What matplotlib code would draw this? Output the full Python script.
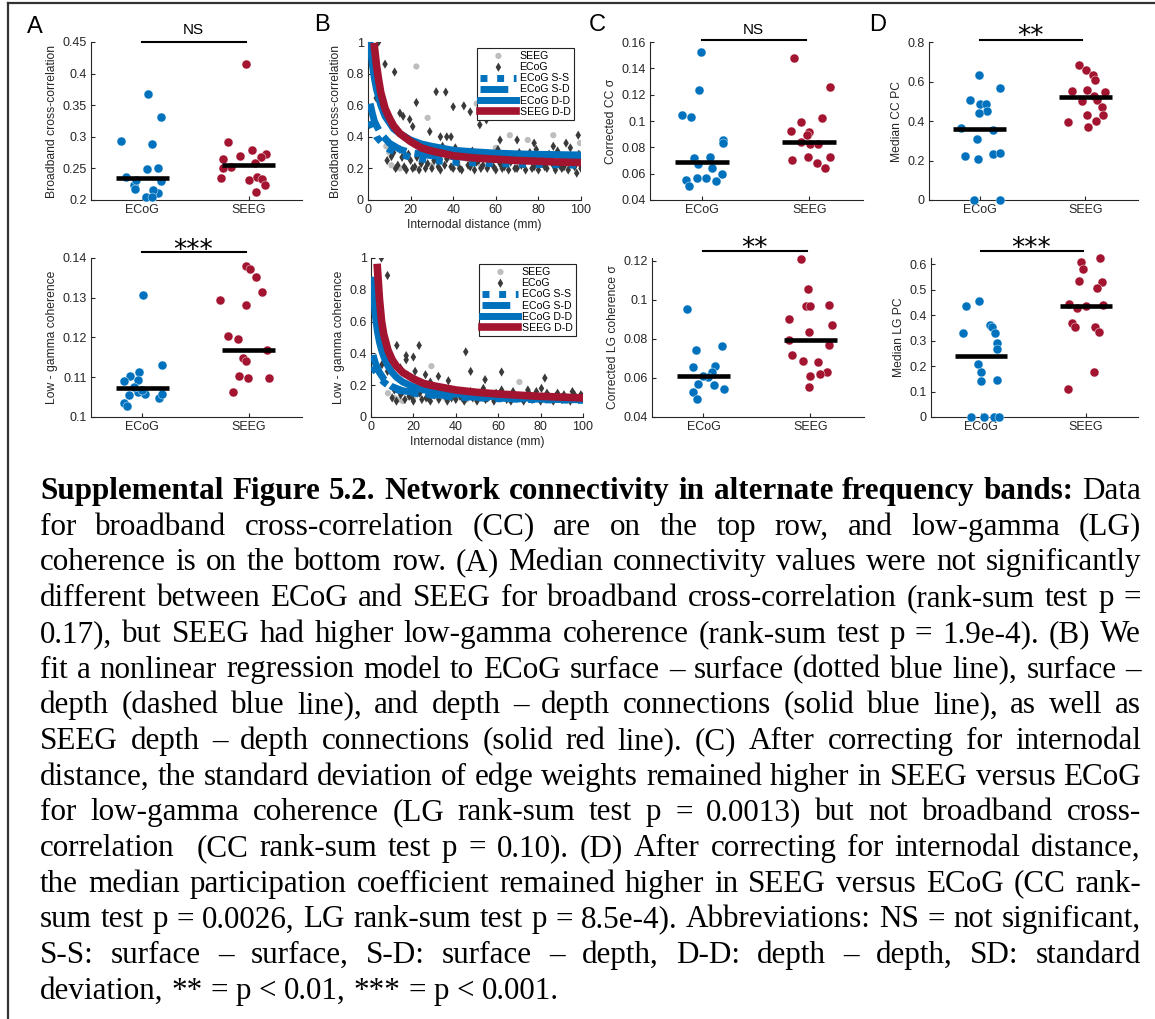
import numpy as np
import matplotlib
matplotlib.use('Agg')
import matplotlib.pyplot as plt
from matplotlib.lines import Line2D
from matplotlib.ticker import FuncFormatter

W, H = 1155, 1019
BLUE = '#0072BD'
RED = '#A2142F'
AXC = '#262626'

plt.rcParams['font.family'] = ['Liberation Sans', 'DejaVu Sans']

# ---------------- panel A: median connectivity ----------------
a_cc_ecog_x = [1.056, 1.175, 0.803, 1.09, 0.853, 1.047, 1.153, 1.175, 0.928, 0.93, 1.153, 1.10, 1.034, 1.094, 0.94]
a_cc_ecog_y = [0.367, 0.331, 0.293, 0.288, 0.237, 0.249, 0.250, 0.230, 0.224, 0.217, 0.211, 0.216, 0.204, 0.205, 0.232]
a_cc_seeg_x = [1.975, 1.806, 2.03, 1.92, 1.76, 2.166, 2.116, 2.06, 1.83, 1.74, 2.0, 2.08, 2.125, 2.15, 2.07, 1.76]
a_cc_seeg_y = [0.415, 0.291, 0.279, 0.270, 0.265, 0.273, 0.268, 0.259, 0.253, 0.235, 0.232, 0.237, 0.233, 0.224, 0.212, 0.250]
a_cc_med = [0.235, 0.256]

a_lg_ecog_x = [1.01, 1.19, 0.975, 0.885, 0.83, 0.96, 0.88, 0.96, 1.03, 1.16, 1.19, 0.83, 0.86, 0.92, 1.0]
a_lg_ecog_y = [0.1307, 0.1132, 0.1113, 0.1104, 0.1091, 0.1093, 0.1055, 0.1063, 0.1057, 0.1047, 0.1058, 0.1035, 0.1028, 0.1075, 0.1068]
a_lg_seeg_x = [1.978, 2.016, 2.07, 2.125, 1.73, 1.97, 1.81, 1.9, 2.17, 1.95, 1.97, 1.91, 1.99, 2.19, 1.85]
a_lg_seeg_y = [0.1379, 0.1373, 0.1351, 0.1314, 0.1294, 0.1281, 0.1205, 0.1196, 0.1168, 0.1149, 0.1141, 0.1103, 0.1099, 0.1099, 0.1063]
a_lg_med = [0.1072, 0.1168]

# ---------------- panel B: distance vs connectivity ----------------
b_cc_ecog_x = [5, 8, 12.5, 3.9, 22.7, 32, 36.5, 40, 45, 48, 15, 16.5, 19.6, 21, 29, 34, 37, 39, 52.5, 55.6, 57,
               98.7, 62, 70, 78, 87, 93, 10, 9, 11,
               12, 14, 16, 18, 20, 22, 24, 26, 28, 30, 32, 34, 36, 38, 40, 42, 44, 46, 48, 50, 52, 54, 56, 58, 60,
               62, 64, 66, 68, 70, 72, 74, 76, 78, 80, 82, 84, 86, 88, 90, 92, 94, 96, 98, 100,
               13, 15, 17, 19, 21, 23, 25, 27, 29, 31, 33, 35, 37, 39, 41, 43, 45, 47, 49, 51, 53, 55, 57, 59, 61,
               63, 65, 67, 69, 71, 73, 75, 77, 79, 81, 83, 85, 87, 89, 91, 93, 95, 97, 99, 99.5]
b_cc_ecog_y = [1.0, 0.86, 0.81, 0.645, 0.617, 0.685, 0.683, 0.59, 0.596, 0.558, 0.55, 0.53, 0.51, 0.465, 0.433, 0.40, 0.40, 0.40, 0.476, 0.507, 0.54,
               0.41, 0.38, 0.38, 0.36, 0.34, 0.36, 0.36, 0.25, 0.275,
               0.30, 0.22, 0.27, 0.19, 0.25, 0.21, 0.19, 0.28, 0.23, 0.20, 0.26, 0.19, 0.22, 0.30, 0.20, 0.24, 0.19, 0.27, 0.21, 0.19, 0.25, 0.22, 0.20, 0.28, 0.19,
               0.23, 0.21, 0.19, 0.26, 0.20, 0.22, 0.19, 0.30, 0.21, 0.19, 0.24, 0.20, 0.27, 0.19, 0.22, 0.21, 0.19, 0.25, 0.17, 0.20,
               0.20, 0.32, 0.21, 0.29, 0.20, 0.27, 0.23, 0.20, 0.31, 0.25, 0.21, 0.34, 0.26, 0.21, 0.33, 0.20, 0.28, 0.22, 0.31, 0.24, 0.20, 0.29, 0.23, 0.21, 0.32,
               0.20, 0.27, 0.24, 0.20, 0.30, 0.23, 0.27, 0.20, 0.32, 0.25, 0.21, 0.29, 0.22, 0.31, 0.20, 0.27, 0.33, 0.21, 0.29, 0.23]
b_cc_seeg_x = [22.7, 28, 51, 55, 15, 13, 11, 8.6, 10, 66.6, 99.5, 87, 75, 45, 35, 60,
               18, 25, 30, 38, 42, 48, 53, 58, 63, 68, 72, 78, 83, 88, 93, 97]
b_cc_seeg_y = [0.845, 0.52, 0.61, 0.60, 0.20, 0.20, 0.22, 0.34, 0.30, 0.41, 0.36, 0.41, 0.38, 0.30, 0.32, 0.33,
               0.28, 0.24, 0.22, 0.27, 0.23, 0.26, 0.21, 0.25, 0.23, 0.27, 0.22, 0.25, 0.22, 0.27, 0.23, 0.26]

b_cc_ss_x = [1, 2, 3, 4, 6, 8, 10, 15, 20, 30, 40, 60, 80, 100]
b_cc_ss_y = [0.50, 0.46, 0.43, 0.40, 0.37, 0.34, 0.32, 0.29, 0.27, 0.25, 0.24, 0.23, 0.225, 0.22]
b_cc_sd_x = [1, 2, 3, 4, 6, 8, 10, 15, 20, 30, 40, 60, 80, 100]
b_cc_sd_y = [0.61, 0.55, 0.50, 0.47, 0.42, 0.39, 0.36, 0.32, 0.30, 0.28, 0.275, 0.265, 0.26, 0.258]
b_cc_dd_x = [1, 2, 3, 4, 5, 6, 8, 10, 12, 15, 20, 25, 30, 40, 50, 60, 70, 80, 90, 100]
b_cc_dd_y = [0.99, 0.86, 0.77, 0.70, 0.65, 0.60, 0.53, 0.49, 0.45, 0.42, 0.38, 0.355, 0.34, 0.315, 0.305, 0.297, 0.292, 0.289, 0.287, 0.285]
b_cc_seeg_dd_x = [3, 4, 5, 6, 8, 10, 12, 15, 20, 25, 30, 40, 50, 60, 70, 80, 90, 100]
b_cc_seeg_dd_y = [0.97, 0.85, 0.76, 0.68, 0.58, 0.52, 0.47, 0.42, 0.37, 0.33, 0.31, 0.28, 0.266, 0.258, 0.25, 0.245, 0.24, 0.237]

b_lg_ecog_x = [4.9, 7.8, 12.2, 22.7, 44.7, 16.6, 16.6, 20, 5.2, 7.8, 13.8, 20.8, 25.7, 31.8, 36.5, 47, 53.8, 61.6, 82,
               80.4, 74, 61.6, 28, 29.5, 53,
               10, 12, 14, 16, 18, 20, 22, 24, 26, 28, 30, 32, 34, 36, 38, 40, 42, 44, 46, 48, 50, 52, 54, 56, 58,
               60, 62, 64, 66, 68, 70, 72, 74, 76, 78, 80, 82, 84, 86, 88, 90, 92, 94, 96, 98, 100,
               11, 15, 19, 23, 27, 31, 35, 39, 43, 47, 51, 55, 59, 63, 67, 71, 75, 79, 83, 87, 91, 95, 99]
b_lg_ecog_y = [1.0, 0.89, 0.45, 0.45, 0.41, 0.386, 0.36, 0.377, 0.33, 0.287, 0.31, 0.287, 0.266, 0.256, 0.228, 0.287, 0.235, 0.283, 0.245,
               0.18, 0.17, 0.17, 0.22, 0.19, 0.18,
               0.12, 0.10, 0.14, 0.11, 0.13, 0.10, 0.15, 0.11, 0.12, 0.10, 0.14, 0.11, 0.16, 0.10, 0.12, 0.11, 0.13, 0.10, 0.15, 0.12, 0.10, 0.14, 0.11, 0.13, 0.10,
               0.12, 0.15, 0.11, 0.10, 0.13, 0.12, 0.10, 0.14, 0.11, 0.16, 0.10, 0.12, 0.13, 0.10, 0.15, 0.11, 0.12, 0.10, 0.14, 0.11, 0.13,
               0.17, 0.16, 0.13, 0.15, 0.12, 0.17, 0.13, 0.15, 0.12, 0.16, 0.13, 0.12, 0.15, 0.13, 0.16, 0.12, 0.14, 0.12, 0.15, 0.13, 0.14, 0.16, 0.14]
b_lg_seeg_x = [28.5, 70, 26, 15, 11, 13, 8, 20, 35, 45, 55, 65, 75, 85, 95, 40, 60, 80, 30, 50, 90, 100]
b_lg_seeg_y = [0.32, 0.22, 0.21, 0.10, 0.12, 0.11, 0.15, 0.12, 0.12, 0.11, 0.12, 0.11, 0.12, 0.11, 0.12, 0.14, 0.13, 0.13, 0.13, 0.12, 0.13, 0.12]

b_lg_ss_x = [1, 2, 3, 4, 6, 8, 10, 15, 20, 30, 40, 60, 80, 100]
b_lg_ss_y = [0.32, 0.29, 0.27, 0.25, 0.22, 0.20, 0.18, 0.16, 0.15, 0.135, 0.125, 0.115, 0.108, 0.105]
b_lg_sd_x = [1, 2, 3, 4, 6, 8, 10, 15, 20, 30, 40, 60, 80, 100]
b_lg_sd_y = [0.39, 0.34, 0.31, 0.28, 0.24, 0.21, 0.19, 0.165, 0.155, 0.14, 0.13, 0.118, 0.112, 0.108]
b_lg_dd_x = [0.5, 1, 2, 3, 4, 5, 6, 8, 10, 12, 15, 20, 25, 30, 40, 50, 60, 70, 80, 90, 100]
b_lg_dd_y = [0.86, 0.78, 0.64, 0.54, 0.47, 0.42, 0.38, 0.32, 0.28, 0.25, 0.22, 0.19, 0.17, 0.16, 0.145, 0.135, 0.127, 0.12, 0.116, 0.113, 0.11]
b_lg_seeg_dd_x = [3, 4, 5, 6, 8, 10, 12, 15, 20, 25, 30, 40, 50, 60, 70, 80, 90, 100]
b_lg_seeg_dd_y = [0.94, 0.74, 0.60, 0.52, 0.42, 0.36, 0.32, 0.28, 0.24, 0.21, 0.195, 0.17, 0.155, 0.145, 0.137, 0.13, 0.125, 0.12]

# ---------------- panel C: corrected SD ----------------
c_cc_ecog_x = [0.994, 0.98, 0.816, 0.897, 1.2, 1.197, 0.93, 1.08, 0.97, 1.10, 1.19, 0.85, 0.953, 1.04, 1.134, 0.886]
c_cc_ecog_y = [0.1526, 0.1232, 0.1047, 0.1034, 0.0857, 0.0836, 0.0717, 0.0725, 0.0671, 0.0646, 0.0598, 0.0552, 0.0565, 0.057, 0.0545, 0.0507]
c_cc_seeg_x = [1.86, 2.19, 2.12, 1.92, 1.83, 2.0, 1.98, 1.92, 2.01, 2.08, 1.84, 1.99, 2.19, 2.07, 2.15]
c_cc_seeg_y = [0.1476, 0.1258, 0.1022, 0.0991, 0.0925, 0.0913, 0.0895, 0.0844, 0.0826, 0.0824, 0.0705, 0.0725, 0.0725, 0.0684, 0.0646]
c_cc_med = [0.0692, 0.0844]

c_lg_ecog_x = [0.844, 0.93, 1.175, 0.906, 1.11, 1.08, 1.04, 0.95, 1.10, 1.19, 0.906, 0.94, 1.0]
c_lg_ecog_y = [0.0955, 0.0742, 0.0764, 0.0656, 0.0660, 0.0631, 0.0605, 0.0571, 0.0562, 0.0542, 0.0528, 0.0494, 0.0612]
c_lg_seeg_x = [1.916, 1.98, 1.956, 2.0, 2.17, 1.8, 2.2, 1.99, 1.8, 2.175, 1.83, 1.93, 2.07, 2.15, 2.09, 2.0, 1.99]
c_lg_seeg_y = [0.1212, 0.1055, 0.0969, 0.0969, 0.0976, 0.0904, 0.0870, 0.0836, 0.0793, 0.0771, 0.0716, 0.0685, 0.0682, 0.0631, 0.0619, 0.061, 0.0554]
c_lg_med = [0.061, 0.0796]

# ---------------- panel D: median participation coefficient ----------------
d_cc_ecog_x = [0.994, 1.197, 0.906, 1.0, 1.06, 1.07, 0.99, 0.82, 1.125, 0.975, 0.86, 0.98, 1.125, 1.19, 0.95, 1.197]
d_cc_ecog_y = [0.631, 0.566, 0.504, 0.487, 0.487, 0.453, 0.44, 0.367, 0.352, 0.308, 0.223, 0.21, 0.232, 0.237, 0.0, 0.0]
d_cc_seeg_x = [1.94, 2.01, 2.07, 2.09, 1.875, 2.02, 2.08, 2.19, 1.97, 2.11, 2.16, 2.17, 2.02, 1.84, 2.1, 2.03]
d_cc_seeg_y = [0.683, 0.656, 0.631, 0.609, 0.553, 0.555, 0.529, 0.545, 0.502, 0.504, 0.47, 0.431, 0.431, 0.394, 0.402, 0.369]
d_cc_med = [0.358, 0.524]

d_lg_ecog_x = [0.98, 0.853, 1.08, 1.10, 1.134, 0.825, 1.15, 1.156, 0.97, 0.994, 1.0, 1.156, 0.9, 1.025, 1.125, 1.175]
d_lg_ecog_y = [0.457, 0.437, 0.361, 0.355, 0.332, 0.331, 0.289, 0.269, 0.21, 0.177, 0.14, 0.144, 0.0, 0.0, 0.0, 0.0]
d_lg_seeg_x = [2.14, 1.956, 1.97, 1.94, 2.156, 2.11, 1.84, 1.92, 2.0, 2.165, 1.87, 1.9, 2.09, 2.13, 2.08, 1.83]
d_lg_seeg_y = [0.624, 0.608, 0.582, 0.534, 0.529, 0.508, 0.446, 0.427, 0.436, 0.44, 0.368, 0.355, 0.355, 0.335, 0.177, 0.112]
d_lg_med = [0.24, 0.437]

groups = ['ECoG', 'SEEG']

caption_bold = 'Supplemental Figure 5.2. Network connectivity in alternate frequency bands:'
caption_lines = [
    'Data',
    'for broadband cross-correlation (CC) are on the top row, and low-gamma (LG)',
    'coherence is on the bottom row. (A) Median connectivity values were not significantly',
    'different between ECoG and SEEG for broadband cross-correlation (rank-sum test p =',
    '0.17), but SEEG had higher low-gamma coherence (rank-sum test p = 1.9e-4). (B) We',
    'fit a nonlinear regression model to ECoG surface \u2013 surface (dotted blue line), surface \u2013',
    'depth (dashed blue line), and depth \u2013 depth connections (solid blue line), as well as',
    'SEEG depth \u2013 depth connections (solid red line). (C) After correcting for internodal',
    'distance, the standard deviation of edge weights remained higher in SEEG versus ECoG',
    'for low-gamma coherence (LG rank-sum test p = 0.0013) but not broadband cross-',
    'correlation  (CC rank-sum test p = 0.10). (D) After correcting for internodal distance,',
    'the median participation coefficient remained higher in SEEG versus ECoG (CC rank-',
    'sum test p = 0.0026, LG rank-sum test p = 8.5e-4). Abbreviations: NS = not significant,',
    'S-S: surface \u2013 surface, S-D: surface \u2013 depth, D-D: depth \u2013 depth, SD: standard',
    'deviation, ** = p < 0.01, *** = p < 0.001.',
]

fig = plt.figure(figsize=(W / 100, H / 100), dpi=100)


def px_rect(x0, y0, x1, y1):
    return [x0 / W, 1 - y1 / H, (x1 - x0) / W, (y1 - y0) / H]


fmt = FuncFormatter(lambda v, p: f'{v:g}')


def style(ax):
    for s in ['top', 'right']:
        ax.spines[s].set_visible(False)
    for s in ['left', 'bottom']:
        ax.spines[s].set_color(AXC)
        ax.spines[s].set_linewidth(0.8)
    ax.tick_params(direction='in', length=3, width=0.8, colors=AXC, labelsize=9, pad=3)
    ax.yaxis.set_major_formatter(fmt)


def strip(rect, ex, ey, sx, sy, med, ylim, yticks, ylabel, sig, bar_y, sig_y, sig_fs):
    ax = fig.add_axes(px_rect(*rect))
    style(ax)
    ax.scatter(ex, ey, s=42, c=BLUE, edgecolors='white', linewidths=0.3, zorder=3, clip_on=False)
    ax.scatter(sx, sy, s=42, c=RED, edgecolors='white', linewidths=0.3, zorder=3, clip_on=False)
    for xc, m in zip([1, 2], med):
        ax.plot([xc - 0.25, xc + 0.25], [m, m], color='black', lw=3.3, solid_capstyle='butt', zorder=4)
    ax.set_xlim(0.52, 2.5)
    ax.set_ylim(*ylim)
    ax.set_yticks(yticks)
    ax.set_xticks([1, 2])
    ax.set_xticklabels(groups)
    ax.set_ylabel(ylabel, fontsize=8.7, color=AXC, labelpad=3)
    tr = ax.get_xaxis_transform()
    ax.plot([1.0, 1.97], [bar_y, bar_y], transform=tr, color='black', lw=1.5, clip_on=False)
    if sig == 'NS':
        ax.text(1.48, sig_y, sig, transform=tr, ha='center', va='center', fontsize=sig_fs, color='black')
    else:
        ax.text(1.48, sig_y, sig, transform=tr, ha='center', va='baseline', fontsize=sig_fs,
                color='black', family='DejaVu Sans')
    return ax


def dist_panel(rect, ecog_x, ecog_y, seeg_x, seeg_y, ss, sd, dd, sdd, ylabel):
    ax = fig.add_axes(px_rect(*rect))
    style(ax)
    ax.xaxis.set_major_formatter(fmt)
    h1 = ax.scatter(seeg_x, seeg_y, s=20, c='#BDBDBD', edgecolors='none', zorder=2)
    h2 = ax.scatter(ecog_x, ecog_y, s=22, c='#3A3A3A', marker='d', edgecolors='none', zorder=2)
    l1, = ax.plot(ss[0], ss[1], color=BLUE, lw=5, ls=(0, (1, 1.4)), solid_capstyle='butt', zorder=3)
    l2, = ax.plot(sd[0], sd[1], color=BLUE, lw=5, ls=(0, (4, 1.2)), zorder=3)
    l3, = ax.plot(dd[0], dd[1], color=BLUE, lw=5, zorder=4)
    l4, = ax.plot(sdd[0], sdd[1], color=RED, lw=5.5, zorder=5)
    ax.set_xlim(0, 100)
    ax.set_ylim(0, 1)
    ax.set_xticks([0, 20, 40, 60, 80, 100])
    ax.set_yticks([0, 0.2, 0.4, 0.6, 0.8, 1])
    ax.set_xlabel('Internodal distance (mm)', fontsize=8.7, color=AXC, labelpad=2)
    ax.set_ylabel(ylabel, fontsize=8.7, color=AXC, labelpad=3)
    leg = ax.legend([h1, h2, l1, l2, l3, l4],
                    ['SEEG', 'ECoG', 'ECoG S-S', 'ECoG S-D', 'ECoG D-D', 'SEEG D-D'],
                    loc='upper right', bbox_to_anchor=(0.965, 0.965), fontsize=7.6,
                    frameon=True, fancybox=False, edgecolor='#222222', framealpha=1,
                    handlelength=3.4, handletextpad=0.3, borderpad=0.3, labelspacing=0.12,
                    borderaxespad=0)
    leg.get_frame().set_linewidth(0.8)
    return ax


# top row: broadband cross-correlation
strip((91, 42, 302, 200), a_cc_ecog_x, a_cc_ecog_y, a_cc_seeg_x, a_cc_seeg_y, a_cc_med,
      (0.2, 0.45), [0.2, 0.25, 0.3, 0.35, 0.4, 0.45], 'Broadband cross-correlation', 'NS', 1.0, 1.075, 11)
dist_panel((368, 42, 581, 200), b_cc_ecog_x, b_cc_ecog_y, b_cc_seeg_x, b_cc_seeg_y,
           (b_cc_ss_x, b_cc_ss_y), (b_cc_sd_x, b_cc_sd_y), (b_cc_dd_x, b_cc_dd_y),
           (b_cc_seeg_dd_x, b_cc_seeg_dd_y), 'Broadband cross-correlation')
strip((650, 42, 863, 200), c_cc_ecog_x, c_cc_ecog_y, c_cc_seeg_x, c_cc_seeg_y, c_cc_med,
      (0.04, 0.16), [0.04, 0.06, 0.08, 0.1, 0.12, 0.14, 0.16], 'Corrected CC \u03c3', 'NS', 1.01, 1.075, 11)
strip((929, 42, 1138, 200), d_cc_ecog_x, d_cc_ecog_y, d_cc_seeg_x, d_cc_seeg_y, d_cc_med,
      (0, 0.8), [0, 0.2, 0.4, 0.6, 0.8], 'Median CC PC', '**', 1.01, 0.99, 19)

# bottom row: low-gamma coherence
strip((91, 258, 302, 417), a_lg_ecog_x, a_lg_ecog_y, a_lg_seeg_x, a_lg_seeg_y, a_lg_med,
      (0.1, 0.14), [0.1, 0.11, 0.12, 0.13, 0.14], 'Low - gamma coherence', '***', 1.035, 1.0, 19)
dist_panel((371, 258, 583, 417), b_lg_ecog_x, b_lg_ecog_y, b_lg_seeg_x, b_lg_seeg_y,
           (b_lg_ss_x, b_lg_ss_y), (b_lg_sd_x, b_lg_sd_y), (b_lg_dd_x, b_lg_dd_y),
           (b_lg_seeg_dd_x, b_lg_seeg_dd_y), 'Low - gamma coherence')
strip((652, 258, 864, 417), c_lg_ecog_x, c_lg_ecog_y, c_lg_seeg_x, c_lg_seeg_y, c_lg_med,
      (0.04, 0.1215), [0.04, 0.06, 0.08, 0.1, 0.12], 'Corrected LG coherence \u03c3', '**', 1.045, 1.01, 19)
strip((931, 258, 1138, 417), d_lg_ecog_x, d_lg_ecog_y, d_lg_seeg_x, d_lg_seeg_y, d_lg_med,
      (0, 0.625), [0, 0.1, 0.2, 0.3, 0.4, 0.5, 0.6], 'Median LG PC', '***', 1.045, 1.01, 19)

# panel letters
for letter, (lx, ly) in zip('ABCD', [(35, 27), (322, 25), (597, 25), (878, 25)]):
    fig.text(lx / W, 1 - ly / H, letter, fontsize=17, ha='center', va='center', color='black')

# frame lines around the figure block
fig.add_artist(Line2D([8 / W, 8 / W], [0, 1 - 3 / H], transform=fig.transFigure, color='#333333', lw=1.6))
fig.add_artist(Line2D([8 / W, 1], [1 - 3 / H, 1 - 3 / H], transform=fig.transFigure, color='#333333', lw=1.6))

# justified caption
SERIF = 'Liberation Serif'
renderer = fig.canvas.get_renderer()
x_left, x_right = 40, 1141
base0, step = 499, 35.7


def text_w(s, weight, fs):
    t = fig.text(0, 0, s, fontsize=fs, family=SERIF, weight=weight)
    w = t.get_window_extent(renderer=renderer).width
    t.remove()
    return w


rows = []
first = [(w, 'bold') for w in caption_bold.split(' ')] + [(w, 'normal') for w in caption_lines[0].split(' ')]
rows.append(first)
for ln in caption_lines[1:]:
    rows.append([(w, 'normal') for w in ln.split(' ')])

# pick the font size so the tightest line just fills the column
base_fs = 21
sp = text_w('a a', 'normal', base_fs) - text_w('aa', 'normal', base_fs)
natural = []
for row in rows:
    ws = [text_w(w, wt, base_fs) if w else 0 for w, wt in row]
    natural.append(sum(ws) + sp * (len(row) - 1))
CAP_FS = base_fs * (x_right - x_left) / max(natural) * 0.998
space_w = text_w('a a', 'normal', CAP_FS) - text_w('aa', 'normal', CAP_FS)

for i, row in enumerate(rows):
    widths = [text_w(w, wt, CAP_FS) if w else 0 for w, wt in row]
    last = i == len(rows) - 1
    if last or len(row) < 2:
        gap = space_w
    else:
        gap = (x_right - x_left - sum(widths)) / (len(row) - 1)
    x = x_left
    yb = base0 + i * step
    for (w, wt), ww in zip(row, widths):
        if w:
            fig.text(x / W, 1 - yb / H, w, fontsize=CAP_FS, family=SERIF, weight=wt,
                     ha='left', va='baseline', color='black')
        x += ww + gap

fig.savefig('out.png', dpi=100)
